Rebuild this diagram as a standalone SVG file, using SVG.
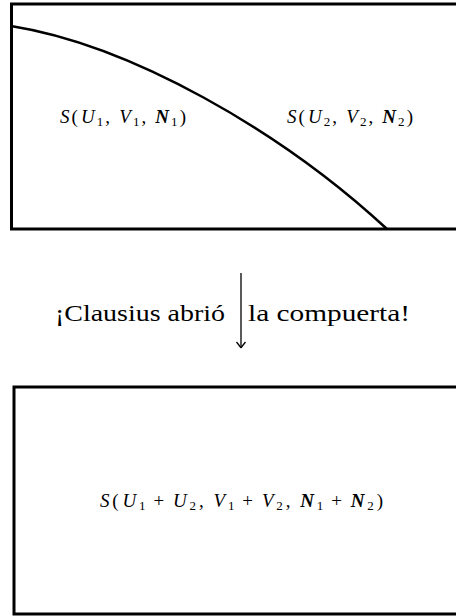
<svg xmlns="http://www.w3.org/2000/svg" width="456" height="616" viewBox="0 0 456 616">
<style>
.box{fill:none;stroke:#000;stroke-width:3}
.curve{fill:none;stroke:#000;stroke-width:2.5}
.m{font-family:"Liberation Serif",serif;font-size:19px;fill:#000}
.i{font-style:italic}
.bi{font-style:italic;font-weight:bold}
.s{font-size:13px}
.t{font-family:"Liberation Serif",serif;font-size:23.5px;fill:#000}
.arr{fill:none;stroke:#000;stroke-width:1.3}
</style>
<defs>
<marker id="ah" markerWidth="14" markerHeight="10" refX="7" refY="5" orient="auto" markerUnits="userSpaceOnUse" viewBox="0 0 14 10">
<path d="M1,0.5 Q4,3 7,5 M1,9.5 Q4,7 7,5" fill="none" stroke="#000" stroke-width="1.3"/>
</marker>
</defs>
<g id="top-box">
<rect class="box" x="11.5" y="4" width="470" height="225"/>
<path class="curve" d="M11,26 C130,45 280,130 387,229"/>
<text class="m" x="60" y="123" textLength="126" lengthAdjust="spacing"><tspan class="i">S</tspan>(<tspan class="i" dx="1">U</tspan><tspan class="s" dy="3">1</tspan><tspan dy="-3">,</tspan><tspan class="i" dx="7">V</tspan><tspan class="s" dy="3">1</tspan><tspan dy="-3">,</tspan><tspan class="bi" dx="7">N</tspan><tspan class="s" dy="3">1</tspan><tspan dy="-3">)</tspan></text>
<text class="m" x="287" y="123" textLength="126" lengthAdjust="spacing"><tspan class="i">S</tspan>(<tspan class="i" dx="1">U</tspan><tspan class="s" dy="3">2</tspan><tspan dy="-3">,</tspan><tspan class="i" dx="7">V</tspan><tspan class="s" dy="3">2</tspan><tspan dy="-3">,</tspan><tspan class="bi" dx="7">N</tspan><tspan class="s" dy="3">2</tspan><tspan dy="-3">)</tspan></text>
</g>
<g id="connectors">
<line class="arr" x1="241" y1="273" x2="241" y2="348" marker-end="url(#ah)"/>
<text class="t" x="55" y="321" textLength="170" lengthAdjust="spacingAndGlyphs">¡Clausius abrió</text>
<text class="t" x="248" y="321" textLength="162" lengthAdjust="spacingAndGlyphs">la compuerta!</text>
</g>
<g id="bottom-box">
<rect class="box" x="14" y="387" width="470" height="227"/>
<text class="m" x="100" y="507" textLength="283" lengthAdjust="spacing"><tspan class="i">S</tspan>(<tspan class="i" dx="1">U</tspan><tspan class="s" dy="3">1</tspan><tspan dy="-3" dx="5">+</tspan><tspan class="i" dx="6">U</tspan><tspan class="s" dy="3">2</tspan><tspan dy="-3">,</tspan><tspan class="i" dx="7">V</tspan><tspan class="s" dy="3">1</tspan><tspan dy="-3" dx="5">+</tspan><tspan class="i" dx="6">V</tspan><tspan class="s" dy="3">2</tspan><tspan dy="-3">,</tspan><tspan class="bi" dx="7">N</tspan><tspan class="s" dy="3">1</tspan><tspan dy="-3" dx="5">+</tspan><tspan class="bi" dx="6">N</tspan><tspan class="s" dy="3">2</tspan><tspan dy="-3">)</tspan></text>
</g>
</svg>
